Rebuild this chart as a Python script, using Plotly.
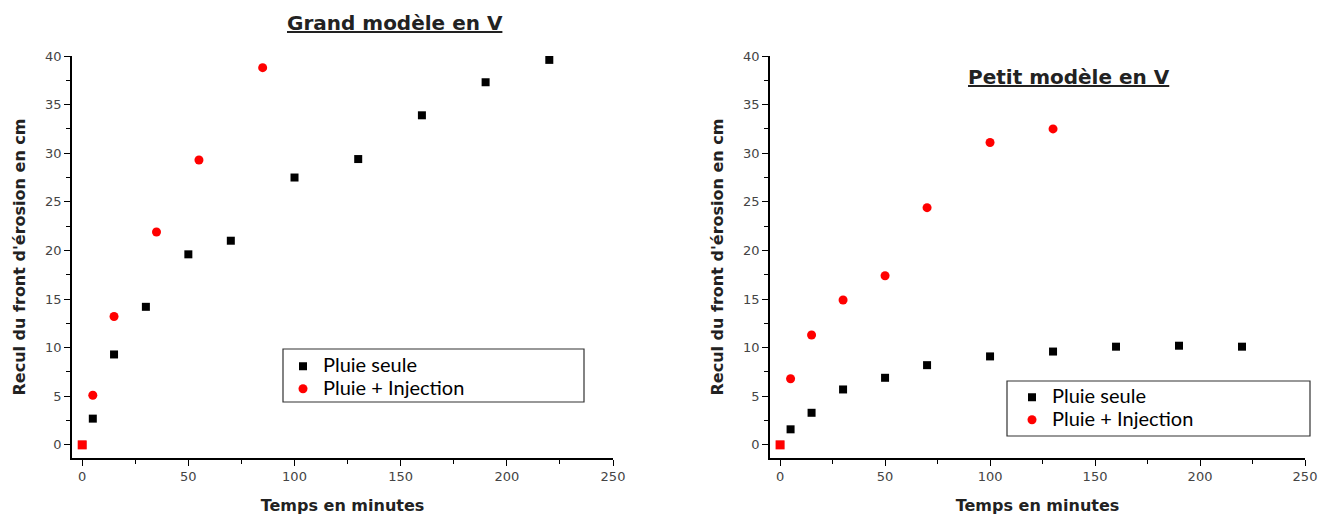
import plotly.graph_objects as go

# ---- data ----
grand_time_pluie = [0, 5, 15, 30, 50, 70, 100, 130, 160, 190, 220]
grand_recul_pluie = [0, 2.7, 9.3, 14.2, 19.6, 21.0, 27.5, 29.4, 33.9, 37.3, 39.6]
grand_time_inj = [0, 5, 15, 35, 55, 85]
grand_recul_inj = [0, 5.1, 13.2, 21.9, 29.3, 38.8]

petit_time_pluie = [0, 5, 15, 30, 50, 70, 100, 130, 160, 190, 220]
petit_recul_pluie = [0, 1.6, 3.3, 5.7, 6.9, 8.2, 9.1, 9.6, 10.1, 10.2, 10.1]
petit_time_inj = [0, 5, 15, 30, 50, 70, 100, 130]
petit_recul_inj = [0, 6.8, 11.3, 14.9, 17.4, 24.4, 31.1, 32.5]

x_ticks = [0, 50, 100, 150, 200, 250]
y_ticks = [0, 5, 10, 15, 20, 25, 30, 35, 40]

# page body has an 8px margin: figure is drawn at (8, 8)
OFF = 8
W, H = 1339 - OFF, 517 - OFF

def px(x):
    return (x - OFF) / W

def py(y):
    return 1 - (y - OFF) / H

fig = go.Figure()

def add_series(xs, ys, name, color, symbol, xa, ya, legend, size):
    fig.add_trace(go.Scatter(
        x=xs, y=ys, mode="markers",
        name=f'<span style="font-size:20px">{name}</span>',
        marker=dict(color=color, symbol=symbol, size=size, line=dict(width=0)),
        xaxis=xa, yaxis=ya, legend=legend,
    ))

def add_origin(xs, ys, color, xa, ya):
    # the first (origin) point of the injection series appears as a red square
    fig.add_trace(go.Scatter(
        x=xs[:1], y=ys[:1], mode="markers", showlegend=False,
        marker=dict(color=color, symbol="square", size=9, line=dict(width=0)),
        xaxis=xa, yaxis=ya,
    ))

add_series(grand_time_pluie, grand_recul_pluie, "Pluie seule", "black", "square", "x", "y", "legend", 8)
add_series(grand_time_inj[1:], grand_recul_inj[1:], "Pluie + Injection", "#ff0000", "circle", "x", "y", "legend", 9)
add_origin(grand_time_inj, grand_recul_inj, "#ff0000", "x", "y")
add_series(petit_time_pluie, petit_recul_pluie, "Pluie seule", "black", "square", "x2", "y2", "legend2", 8)
add_series(petit_time_inj[1:], petit_recul_inj[1:], "Pluie + Injection", "#ff0000", "circle", "x2", "y2", "legend2", 9)
add_origin(petit_time_inj, petit_recul_inj, "#ff0000", "x2", "y2")

tickfont = dict(family="DejaVu Sans", size=13, color="#444444")
titlefont = dict(family="DejaVu Sans", size=16, color="#222222")

def xaxis(domain, anchor):
    return dict(
        domain=domain, anchor=anchor, range=[-4.8, 250], automargin=False,
        tickvals=x_ticks, ticktext=[str(v) for v in x_ticks],
        showline=True, linecolor="black", linewidth=1.5,
        ticks="outside", ticklen=6, tickwidth=1.2, tickcolor="black",
        minor=dict(ticks="outside", ticklen=4, tickwidth=1.2, tickcolor="black", dtick=25, tick0=0, showgrid=False),
        showgrid=False, zeroline=False, tickfont=tickfont,
        title=dict(text="<b>Temps en minutes</b>", font=titlefont, standoff=16),
    )

def yaxis(domain, anchor):
    return dict(
        domain=domain, anchor=anchor, range=[-1.35, 40], automargin=False,
        tickvals=y_ticks, ticktext=[str(v) for v in y_ticks],
        showline=True, linecolor="black", linewidth=1.5,
        ticks="outside", ticklen=6, tickwidth=1.2, tickcolor="black",
        minor=dict(ticks="outside", ticklen=4, tickwidth=1.2, tickcolor="black", dtick=2.5, tick0=0, showgrid=False),
        showgrid=False, zeroline=False, tickfont=tickfont,
        title=dict(text="<b>Recul du front d'érosion en cm</b>", font=titlefont, standoff=16),
    )

ydom = [py(458), py(56)]
legfont = dict(family="Lato, Open Sans", size=15, color="black")

fig.update_layout(
    width=W, height=H,
    margin=dict(l=0, r=0, t=0, b=0),
    paper_bgcolor="white", plot_bgcolor="white",
    xaxis=xaxis([px(72), px(613)], "y"),
    yaxis=yaxis(ydom, "x"),
    xaxis2=xaxis([px(770), px(1305)], "y2"),
    yaxis2=yaxis(ydom, "x2"),
    legend=dict(x=px(283), y=py(350), xanchor="left", yanchor="top",
                bgcolor="rgba(0,0,0,0)", borderwidth=0, font=legfont,
                tracegroupgap=0, itemsizing="trace"),
    legend2=dict(x=px(1012), y=py(381), xanchor="left", yanchor="top",
                 bgcolor="rgba(0,0,0,0)", borderwidth=0, font=legfont,
                 tracegroupgap=0, itemsizing="trace"),
    showlegend=True,
    shapes=[
        dict(type="rect", xref="paper", yref="paper",
             x0=px(283), x1=px(584), y0=py(402), y1=py(349),
             line=dict(color="#333333", width=1.2)),
        dict(type="rect", xref="paper", yref="paper",
             x0=px(1007), x1=px(1310), y0=py(436), y1=py(381),
             line=dict(color="#333333", width=1.2)),
    ],
    annotations=[
        dict(text="<b><u>Grand modèle en V</u></b>", x=px(395), y=py(23),
             xref="paper", yref="paper", showarrow=False, xanchor="center", yanchor="middle",
             font=dict(family="DejaVu Sans", size=20, color="#222222")),
        dict(text="<b><u>Petit modèle en V</u></b>", x=px(1069), y=py(77),
             xref="paper", yref="paper", showarrow=False, xanchor="center", yanchor="middle",
             font=dict(family="DejaVu Sans", size=20, color="#222222")),
    ],
)

fig.write_html("out.html")
